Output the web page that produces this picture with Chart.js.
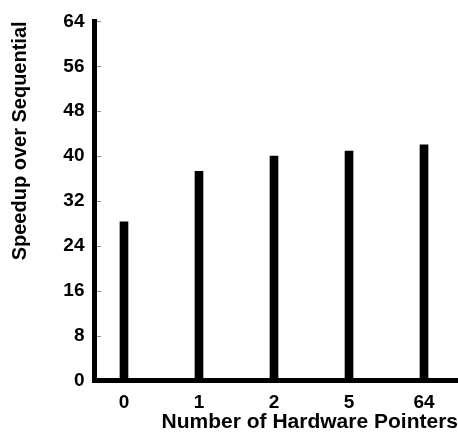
<!DOCTYPE html>
<html>
<head>
<meta charset="utf-8">
<script src="https://cdn.jsdelivr.net/npm/chart.js@4/dist/chart.umd.min.js"></script>
<style>
  html, body { margin: 0; padding: 0; background: #fff; }
  canvas { display: block; }
</style>
</head>
<body>
<canvas id="c" width="458" height="440"></canvas>
<script>
const categories = ["0", "1", "2", "5", "64"];
const speedup = [28.3, 37.3, 40.0, 40.9, 42.0];
const yTicks = [0, 8, 16, 24, 32, 40, 48, 56, 64];
const xTitle = "Number of Hardware Pointers";
const yTitle = "Speedup over Sequential";

const FONT = "'Liberation Sans', Arial, Helvetica, sans-serif";

const innerTicks = {
  id: 'innerTicks',
  afterDatasetsDraw(chart) {
    const y = chart.scales.y;
    const ctx = chart.ctx;
    const area = chart.chartArea;
    ctx.save();
    ctx.strokeStyle = '#8a8a8a';
    ctx.lineWidth = 1;
    yTicks.forEach(v => {
      if (v === 0) return;
      const py = Math.round(y.getPixelForValue(v)) + 0.5;
      ctx.beginPath();
      ctx.moveTo(area.left + 2.5, py);
      ctx.lineTo(area.left + 6.5, py);
      ctx.stroke();
    });
    // close the corner where the two axis lines meet
    ctx.fillStyle = '#000';
    ctx.fillRect(area.left - 2.5, area.bottom - 2.5, 5, 5);
    ctx.restore();
  }
};

new Chart(document.getElementById('c'), {
  type: 'bar',
  data: {
    datasets: [{
      data: speedup.map((v, i) => ({ x: i, y: v })),
      backgroundColor: '#000',
      borderWidth: 0,
      barThickness: 8
    }]
  },
  options: {
    responsive: false,
    animation: false,
    devicePixelRatio: 1,
    layout: { padding: { left: 0, right: 0, top: 18, bottom: 0 } },
    plugins: { legend: { display: false }, tooltip: { enabled: false } },
    scales: {
      x: {
        type: 'linear',
        offset: false,
        min: -0.393,
        max: 4.453,
        afterBuildTicks(scale) {
          scale.ticks = categories.map((c, i) => ({ value: i }));
        },
        afterFit(scale) { scale.height = 59.5; },
        grid: { display: false, drawTicks: false, offset: false },
        border: { display: true, color: '#000', width: 5 },
        ticks: {
          color: '#000',
          padding: 11,
          autoSkip: false,
          maxRotation: 0,
          font: { family: FONT, size: 19, weight: 'bold' },
          callback: (v) => categories[v]
        },
        title: {
          display: true,
          text: xTitle,
          align: 'end',
          color: '#000',
          padding: { top: 0, bottom: 5 },
          font: { family: FONT, size: 21, weight: 'bold' }
        }
      },
      y: {
        min: 0,
        max: 64,
        afterBuildTicks(scale) {
          scale.ticks = yTicks.map(v => ({ value: v }));
        },
        afterFit(scale) { scale.width = 94.5; },
        grid: { display: false, drawTicks: false },
        border: { display: true, color: '#000', width: 5 },
        ticks: {
          color: '#000',
          padding: 10,
          font: { family: FONT, size: 19, weight: 'bold' }
        },
        title: {
          display: true,
          text: yTitle,
          align: 'end',
          color: '#000',
          padding: { top: 8, bottom: 0 },
          font: { family: FONT, size: 20, weight: 'bold' }
        }
      }
    }
  },
  plugins: [innerTicks]
});
</script>
</body>
</html>
